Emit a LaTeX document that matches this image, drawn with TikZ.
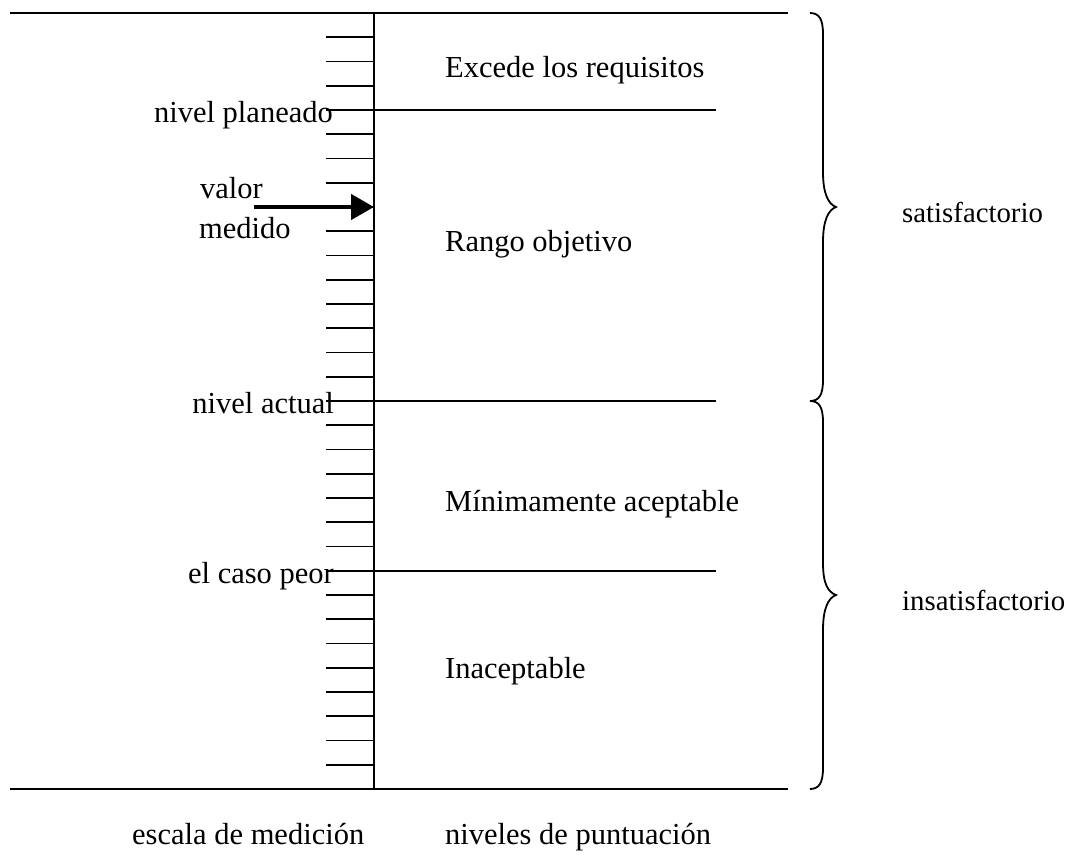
\documentclass[tikz,border=0pt]{standalone}
\usepackage{fontspec}
\setmainfont{Liberation Serif}
\usetikzlibrary{arrows.meta}
\begin{document}
\begin{tikzpicture}[x=1pt,y=-1pt,
  rule/.style={line width=1.8pt,black},
  lbl/.style={inner sep=0pt,anchor=base west,font=\fontsize{30.5}{36}\selectfont},
  lblr/.style={inner sep=0pt,anchor=base east,font=\fontsize{30.5}{36}\selectfont},
  sidelbl/.style={inner sep=0pt,anchor=base west,font=\fontsize{28.8}{34}\selectfont},
  bracepath/.style={line width=1.8pt,black},
  pointer/.style={line width=4.5pt,-{Triangle[length=23pt,width=25pt]}}]
\useasboundingbox (0,0) rectangle (1076,858);
\fill[white] (0,0) rectangle (1076,858);

% frame: top and bottom rules, scale axis
\coordinate (axtop) at (374,13);
\coordinate (axbot) at (374,789);
\draw[rule] (10,13) -- (788,13);
\draw[rule] (10,789) -- (788,789);
\draw[rule] (axtop) -- (axbot);

% scale ticks (every 24.25 units), with level lines at 4, 16 and 23
\foreach \k in {1,...,31}{
  \pgfmathsetmacro{\ty}{13+\k*24.25}
  \ifnum\k=4 \else\ifnum\k=16 \else\ifnum\k=23 \else
    \draw[rule] (326,\ty) -- (374,\ty);
  \fi\fi\fi
}
\foreach \k in {4,16,23}{
  \pgfmathsetmacro{\ty}{13+\k*24.25}
  \draw[rule] (326,\ty) -- (716,\ty);
}

% measured value pointer
\coordinate (ptrstart) at (254,207);
\coordinate (ptrend) at (374,207);
\draw[pointer] (ptrstart) -- (ptrend);

% left labels
\node[lblr] (planeado) at (333,122.5) {nivel planeado};
\node[lbl] (valor) at (200,199) {valor};
\node[lbl] (medido) at (199,239) {medido};
\node[lblr] (actual) at (334,413.5) {nivel actual};
\node[lblr] (peor) at (334,583) {el caso peor};

% region labels
\node[lbl] (excede) at (445,78) {Excede los requisitos};
\node[lbl] (rango) at (445,252) {Rango objetivo};
\node[lbl] (minimo) at (445,511) {Mínimamente aceptable};
\node[lbl] (inacept) at (445,678) {Inaceptable};

% braces
\draw[bracepath] (810,13) .. controls (819,13) and (823,19) .. (823,34)
  -- (823,172) .. controls (823,193) and (828,204) .. (836,207)
  .. controls (828,210) and (823,221) .. (823,242)
  -- (823,380) .. controls (823,395) and (819,401) .. (810,401);
\draw[bracepath] (810,401) .. controls (819,401) and (823,407) .. (823,422)
  -- (823,563) .. controls (823,584) and (828,592) .. (836,595)
  .. controls (828,598) and (823,609) .. (823,630)
  -- (823,768) .. controls (823,783) and (819,789) .. (810,789);
\node[sidelbl] (sat) at (902,223) {satisfactorio};
\node[sidelbl] (insat) at (902,610) {insatisfactorio};

% axis captions
\node[lbl] (escala) at (132,844) {escala de medición};
\node[lbl] (niveles) at (445,844) {niveles de puntuación};
\end{tikzpicture}
\end{document}
